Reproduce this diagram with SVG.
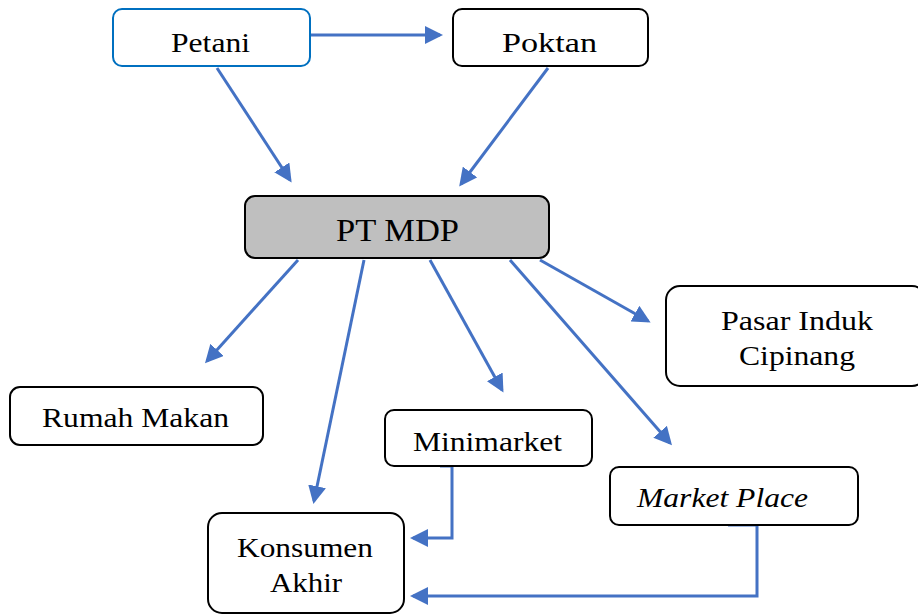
<svg xmlns="http://www.w3.org/2000/svg" width="918" height="615" viewBox="0 0 918 615">
<style>
.box{fill:#fff;stroke:#000;stroke-width:2}
.c{fill:none;stroke:#4472c4;stroke-width:3}
</style>
<defs>
<marker id="ah" markerWidth="6" markerHeight="6" refX="5" refY="3" orient="auto" markerUnits="strokeWidth">
<path d="M0,0 L6,3 L0,6 z" fill="#4472c4"/>
</marker>
</defs>
<rect width="918" height="615" fill="#fff"/>
<g id="connectors">
<line class="c" x1="311" y1="35" x2="440" y2="35" marker-end="url(#ah)"/>
<line class="c" x1="217" y1="68" x2="290" y2="180" marker-end="url(#ah)"/>
<line class="c" x1="548" y1="68" x2="461" y2="184" marker-end="url(#ah)"/>
<line class="c" x1="298" y1="260" x2="207" y2="361" marker-end="url(#ah)"/>
<line class="c" x1="364" y1="260" x2="314" y2="501" marker-end="url(#ah)"/>
<line class="c" x1="430" y1="260" x2="502" y2="390" marker-end="url(#ah)"/>
<line class="c" x1="510" y1="260" x2="670" y2="443" marker-end="url(#ah)"/>
<line class="c" x1="540" y1="260" x2="648" y2="321" marker-end="url(#ah)"/>
<polyline class="c" points="440,466 452,466 452,538 413,538" marker-end="url(#ah)"/>
<polyline class="c" points="728,525 757,525 757,596 413,596" marker-end="url(#ah)"/>
</g>
<g font-family="Liberation Serif, DejaVu Serif, serif" font-size="27" fill="#000">
<g id="petani">
<rect x="113" y="9" width="197" height="57" rx="9" fill="#fff" stroke="#0070c0" stroke-width="2"/>
<text x="171" y="52" textLength="79" lengthAdjust="spacingAndGlyphs">Petani</text>
</g>
<g id="poktan">
<rect class="box" x="453" y="9" width="195" height="57" rx="9"/>
<text x="502" y="52" textLength="95" lengthAdjust="spacingAndGlyphs">Poktan</text>
</g>
<g id="ptmdp">
<rect x="245" y="196" width="304" height="62" rx="10" fill="#bfbfbf" stroke="#000" stroke-width="2"/>
<text x="336" y="241" font-size="32" textLength="123" lengthAdjust="spacingAndGlyphs">PT MDP</text>
</g>
<g id="pasar">
<rect class="box" x="666" y="286" width="260" height="100" rx="14"/>
<text x="721" y="330" textLength="152" lengthAdjust="spacingAndGlyphs">Pasar Induk</text>
<text x="739" y="365" textLength="116" lengthAdjust="spacingAndGlyphs">Cipinang</text>
</g>
<g id="rumahmakan">
<rect class="box" x="10" y="387" width="253" height="58" rx="10"/>
<text x="42" y="427" textLength="187" lengthAdjust="spacingAndGlyphs">Rumah Makan</text>
</g>
<g id="minimarket">
<rect class="box" x="385" y="410" width="207" height="56" rx="9"/>
<text x="413" y="451" textLength="149" lengthAdjust="spacingAndGlyphs">Minimarket</text>
</g>
<g id="marketplace">
<rect class="box" x="610" y="467" width="248" height="58" rx="9"/>
<text x="637" y="507" font-style="italic" textLength="171" lengthAdjust="spacingAndGlyphs">Market Place</text>
</g>
<g id="konsumen">
<rect class="box" x="208" y="513" width="196" height="100" rx="14"/>
<text x="237" y="557" textLength="136" lengthAdjust="spacingAndGlyphs">Konsumen</text>
<text x="270" y="592" textLength="72" lengthAdjust="spacingAndGlyphs">Akhir</text>
</g>
</g>
</svg>
